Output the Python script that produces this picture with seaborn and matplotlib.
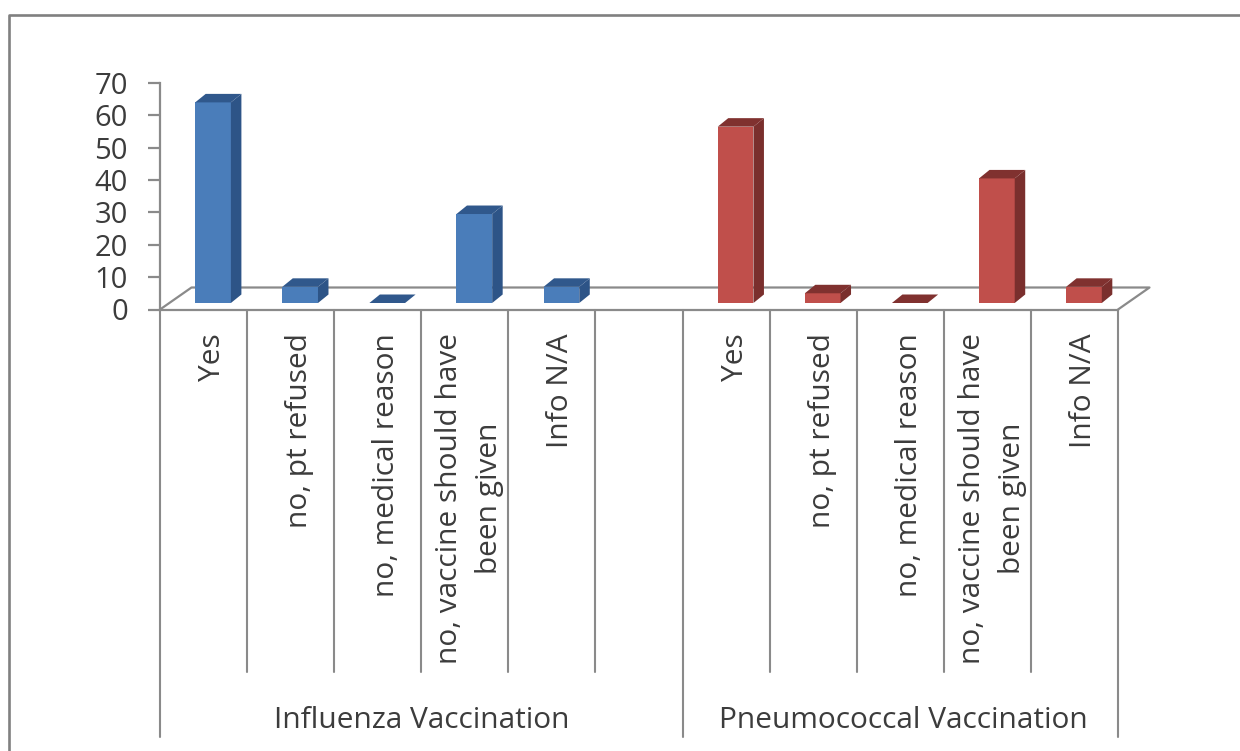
import numpy as np
import pandas as pd
import matplotlib
matplotlib.use('Agg')
import matplotlib.pyplot as plt
from matplotlib.lines import Line2D
from matplotlib.patches import Polygon
from matplotlib.transforms import Affine2D
import seaborn as sns

# --- data ---
answers = ['Yes', 'no, pt refused', 'no, medical reason',
           'no, vaccine should have\nbeen given', 'Info N/A']
groups = ['Influenza Vaccination', 'Pneumococcal Vaccination']
flu_values = [62, 5, 0, 27.5, 5]
pneumo_values = [54.5, 3, 0, 38.5, 5]
y_ticks = [0, 10, 20, 30, 40, 50, 60, 70]

W, H = 1240, 751
# axes box in pixels
LEFT, RIGHT, TOP, BOTTOM = 160, 1118, 83, 309.5
GRAY = '#8a8a8a'
TEXT = '#3c3c3c'
FRONT = {groups[0]: '#4a7dba', groups[1]: '#c04f4b'}
SIDE = {groups[0]: '#2d5487', groups[1]: '#7a2f2d'}
TOPC = {groups[0]: '#30588c', groups[1]: '#80312f'}

sns.set_theme(style='white')
plt.rcParams['font.family'] = ['Open Sans', 'DejaVu Sans']

# one row per slot, middle slot is left empty
order = [f'{groups[0]}|{a}' for a in answers] + ['gap'] + [f'{groups[1]}|{a}' for a in answers]
df = pd.DataFrame({
    'slot': order[:5] + order[6:],
    'value': flu_values + pneumo_values,
    'group': [groups[0]] * 5 + [groups[1]] * 5,
})

fig = plt.figure(figsize=(W / 100, H / 100), dpi=100)
fig.patch.set_facecolor('white')
ax = fig.add_axes([LEFT / W, 1 - BOTTOM / H, (RIGHT - LEFT) / W, (BOTTOM - TOP) / H])
ax.patch.set_alpha(0)

sns.barplot(data=df, x='slot', y='value', hue='group', order=order, hue_order=groups,
            palette=FRONT, saturation=1, dodge=False, width=0.41, legend=False,
            linewidth=0, ax=ax, zorder=3)
ax.set_xlim(-0.5, 10.5)
ax.set_ylim(0, 70)
ax.set_xlabel('')
ax.set_ylabel('')

# fake 3D: push the front faces back a little and add side + top faces
shift = ax.transData + Affine2D().translate(9.5, 6.5)
dx, dy = 10.5, 8.5
for patch in list(ax.patches):
    x0, w, h = patch.get_x(), patch.get_width(), patch.get_height()
    if w == 0 or np.isnan(h):
        continue
    group = groups[0] if x0 < 5 else groups[1]
    patch.set_transform(shift)
    patch.set_clip_on(False)
    a, b, c, d = shift.transform([(x0, 0), (x0 + w, 0), (x0 + w, h), (x0, h)])
    side = [b, b + (dx, dy), c + (dx, dy), c]
    top = [d, c, c + (dx, dy), d + (dx, dy)]
    ax.add_patch(Polygon(side, closed=True, transform=None, facecolor=SIDE[group],
                         edgecolor='none', clip_on=False, zorder=3))
    ax.add_patch(Polygon(top, closed=True, transform=None, facecolor=TOPC[group],
                         edgecolor='none', clip_on=False, zorder=3))

# axis lines and ticks
sns.despine(ax=ax, top=True, right=True)
for name in ['left', 'bottom']:
    ax.spines[name].set_color(GRAY)
    ax.spines[name].set_linewidth(1.6)
ax.set_yticks(y_ticks)
ax.tick_params(axis='y', length=9, width=1.6, color=GRAY, labelsize=21, labelcolor=TEXT, pad=14, left=True)

# slot labels sit on the category ticks
ax.set_xticks(range(11))
ax.set_xticklabels(answers + [''] + answers, rotation=90, ha='center', va='top',
                   ma='center', fontsize=21.5, color=TEXT, linespacing=1.5)
ax.tick_params(axis='x', length=0, pad=17)
for lab in ax.get_xticklabels():
    # rotated text sits left of the tick because of the descender room
    nudge = Affine2D().translate(5 if '\n' in lab.get_text() else 9, 0)
    lab.set_transform(lab.get_transform() + nudge)

# separators under the axis
boundaries = np.arange(-0.5, 11)
for b in boundaries:
    long_line = b in (-0.5, 5.5, 10.5)
    drop = (737 if long_line else 672) - BOTTOM
    ax.plot([b, b], [0, -drop / (BOTTOM - TOP)], color=GRAY, lw=1.5, clip_on=False,
            transform=ax.get_xaxis_transform(), zorder=1)

# floor of the 3D box
floor_dx, floor_dy = 31.5, 22
fx0, fy0 = LEFT, H - BOTTOM
fx1 = RIGHT
floor = [(fx0, fy0), (fx0 + floor_dx, fy0 + floor_dy), (fx1 + floor_dx, fy0 + floor_dy), (fx1, fy0)]
fig.add_artist(Line2D([p[0] / W for p in floor], [p[1] / H for p in floor], color=GRAY, lw=1.6, zorder=0))

# group labels
for g, mid in zip(groups, [2.5, 8.03]):
    ax.annotate(g, xy=(mid, 0), xycoords=ax.get_xaxis_transform(), xytext=(0, -(720 - BOTTOM) * 0.72),
                textcoords='offset points', ha='center', va='center', fontsize=21.5, color=TEXT)

# picture frame
fig.add_artist(Line2D([9 / W, 9 / W, 1], [0, 1 - 14.5 / H, 1 - 14.5 / H], color='#808080', lw=1.9))

fig.savefig('out.png', dpi=100)
